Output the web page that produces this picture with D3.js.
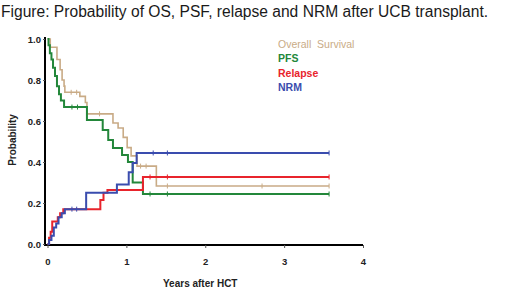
<!DOCTYPE html>
<html>
<head>
<meta charset="utf-8">
<script src="https://cdn.jsdelivr.net/npm/d3@7"></script>
<style>
  body { margin: 0; background: #fff; }
  svg { display: block; font-family: "Liberation Sans", Arial, sans-serif; }
</style>
</head>
<body>
<svg id="chart" width="520" height="290"></svg>
<script>
// step curves: times (years) and probabilities
const osTimes   = [0, 0.035, 0.12, 0.16, 0.185, 0.21, 0.22, 0.41, 0.48, 0.50, 0.83, 0.895, 0.96, 1.01, 1.06, 1.135, 1.38, 3.57];
const osValues  = [1.0, 0.96, 0.90, 0.85, 0.80, 0.77, 0.74, 0.72, 0.69, 0.635, 0.59, 0.566, 0.52, 0.47, 0.43, 0.38, 0.283, 0.283];
const pfsTimes  = [0, 0.013, 0.03, 0.05, 0.07, 0.095, 0.12, 0.146, 0.17, 0.21, 0.50, 0.70, 0.77, 0.83, 0.945, 1.02, 1.08, 1.21, 3.57];
const pfsValues = [1.0, 0.97, 0.93, 0.90, 0.86, 0.82, 0.77, 0.73, 0.70, 0.668, 0.605, 0.556, 0.507, 0.468, 0.434, 0.40, 0.30, 0.244, 0.244];
const relTimes  = [0, 0.02, 0.04, 0.06, 0.13, 0.16, 0.20, 0.67, 0.71, 0.76, 1.21, 3.57];
const relValues = [0, 0.03, 0.06, 0.11, 0.13, 0.15, 0.17, 0.215, 0.25, 0.263, 0.327, 0.327];
const nrmTimes  = [0, 0.02, 0.05, 0.08, 0.11, 0.14, 0.18, 0.22, 0.49, 0.88, 1.03, 1.08, 1.13, 3.57];
const nrmValues = [0, 0.02, 0.04, 0.08, 0.10, 0.13, 0.15, 0.17, 0.25, 0.29, 0.35, 0.395, 0.444, 0.444];

// censor marks (years)
const osCensor  = [0.30, 0.37, 0.66, 1.18, 1.25, 1.52, 2.72, 3.57];
const pfsCensor = [0.31, 0.38, 1.30, 1.52, 3.57];
const relCensor = [1.30, 1.52, 3.57];
const nrmCensor = [0.31, 0.37, 1.34, 1.52, 3.57];

const seriesNames = ['Overall  Survival', 'PFS', 'Relapse', 'NRM'];
const xTicks = [0, 1, 2, 3, 4];
const yTicks = [0, 0.2, 0.4, 0.6, 0.8, 1.0];

const colors = ['#c9ab86', '#23873a', '#e8242c', '#3a4cae'];

const series = [
  { times: osTimes, values: osValues, censor: osCensor },
  { times: pfsTimes, values: pfsValues, censor: pfsCensor },
  { times: relTimes, values: relValues, censor: relCensor },
  { times: nrmTimes, values: nrmValues, censor: nrmCensor }
];

const svg = d3.select('svg#chart');

const x = d3.scaleLinear().domain([0, 4]).range([47.5, 363]);
const y = d3.scaleLinear().domain([0, 1]).range([244, 39]);

svg.append('text')
    .attr('x', 1)
    .attr('y', 17)
    .attr('font-size', 15.6)
    .attr('fill', '#1a1a1a')
    .text('Figure: Probability of OS, PSF, relapse and NRM after UCB transplant.');

// axes
const xAxis = svg.append('g')
    .attr('transform', 'translate(0,245)')
    .call(d3.axisBottom(x).tickValues(xTicks).tickFormat(d3.format('d')).tickSize(3).tickSizeOuter(0));
xAxis.select('.domain').attr('stroke', '#000').attr('stroke-width', 2).attr('d', 'M45,0H363');
xAxis.selectAll('.tick line').attr('stroke', '#555');
xAxis.selectAll('.tick text')
    .attr('y', 13)
    .attr('font-size', 9.5)
    .attr('font-weight', 'bold')
    .attr('font-family', '"Liberation Sans", Arial, sans-serif')
    .attr('fill', '#222');

const yAxis = svg.append('g')
    .attr('transform', 'translate(45,0)')
    .call(d3.axisLeft(y).tickValues(yTicks).tickFormat(d3.format('.1f')).tickSize(2).tickSizeOuter(0));
yAxis.select('.domain').attr('stroke', '#000').attr('stroke-width', 2).attr('d', 'M0,37V246');
yAxis.selectAll('.tick line').attr('stroke', '#555');
yAxis.selectAll('.tick text')
    .attr('x', -4)
    .attr('font-size', 9.5)
    .attr('font-weight', 'bold')
    .attr('font-family', '"Liberation Sans", Arial, sans-serif')
    .attr('fill', '#222');

svg.append('text')
    .attr('x', 163)
    .attr('y', 287)
    .attr('font-size', 10)
    .attr('font-weight', 'bold')
    .attr('fill', '#222')
    .text('Years after HCT');

svg.append('text')
    .attr('transform', 'translate(16,140) rotate(-90)')
    .attr('text-anchor', 'middle')
    .attr('font-size', 10)
    .attr('font-weight', 'bold')
    .attr('fill', '#222')
    .text('Probability');

// curves
const line = d3.line()
    .x(d => x(d[0]))
    .y(d => y(d[1]))
    .curve(d3.curveStepAfter);

function valueAt(s, t) {
  let v = s.values[0];
  s.times.forEach((tt, i) => { if (tt <= t) v = s.values[i]; });
  return v;
}

series.forEach((s, i) => {
  const pts = s.times.map((t, j) => [t, s.values[j]]);
  svg.append('path')
      .datum(pts)
      .attr('fill', 'none')
      .attr('stroke', colors[i])
      .attr('stroke-width', i === 0 ? 1.6 : 2)
      .attr('d', line);

  svg.append('g').selectAll('line')
      .data(s.censor)
      .join('line')
      .attr('x1', d => x(d))
      .attr('x2', d => x(d))
      .attr('y1', d => y(valueAt(s, d)) - 2.5)
      .attr('y2', d => y(valueAt(s, d)) + 2.5)
      .attr('stroke', colors[i])
      .attr('stroke-width', 1);
});

// legend
svg.append('g').selectAll('text')
    .data(seriesNames)
    .join('text')
    .attr('x', 278)
    .attr('y', (d, i) => 48 + i * 14.3)
    .attr('font-size', 10.5)
    .attr('font-weight', (d, i) => i === 0 ? 'normal' : 'bold')
    .attr('fill', (d, i) => colors[i])
    .style('white-space', 'pre')
    .text(d => d);
</script>
</body>
</html>
